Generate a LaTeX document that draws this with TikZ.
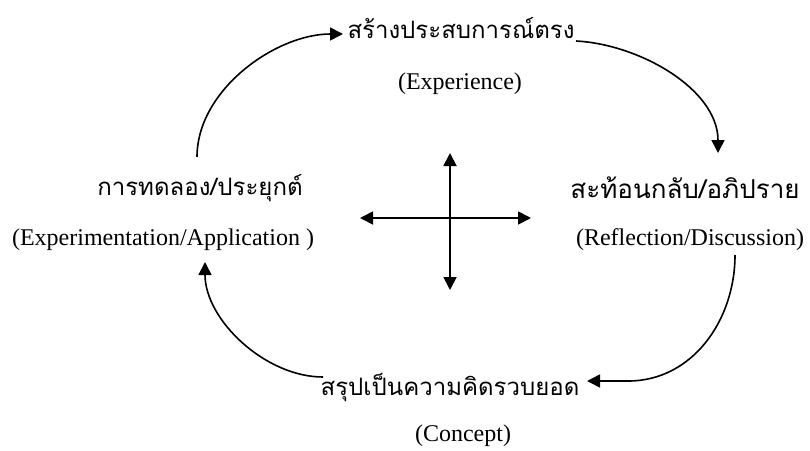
\documentclass[tikz,border=0pt]{standalone}
\usepackage{fontspec}
\setmainfont{Liberation Serif}
\newfontfamily\thaifont[Script=Thai]{Loma}
\usetikzlibrary{arrows.meta}
\begin{document}
\begin{tikzpicture}[x=1pt,y=-1pt,
  thai/.style={font=\thaifont\fontsize{24}{28}\selectfont, inner sep=0pt},
  latin/.style={font=\fontsize{24}{28}\selectfont, inner sep=0pt},
  arr/.style={line width=1.6pt, -{Triangle[length=13pt,width=13pt]}},
  darr/.style={line width=1.8pt, {Triangle[length=13pt,width=13pt]}-{Triangle[length=13pt,width=13pt]}}]
\useasboundingbox (0,0) rectangle (810,450);
% nodes
\node[thai] (e) at (461,28) {สร้างประสบการณ์ตรง};
\node[latin] (e2) at (460,84) {(Experience)};
\node[thai,font=\thaifont\fontsize{26}{30}\selectfont] (r) at (685,188) {สะท้อนกลับ/อภิปราย};
\node[latin] (r2) at (690,240) {(Reflection/Discussion)};
\node[thai] (c) at (450,388) {สรุปเป็นความคิดรวบยอด};
\node[latin] (c2) at (463,436) {(Concept)};
\node[thai] (a) at (200,188) {การทดลอง/ประยุกต์};
\node[latin] (a2) at (163,240) {(Experimentation/Application )};
% connector end points
\coordinate (a-out) at (197,157);
\coordinate (e-in) at (343,34);
\coordinate (e-out) at (576,41);
\coordinate (r-in) at (718,153);
\coordinate (r-out) at (735,255);
\coordinate (c-bend) at (628,381);
\coordinate (c-in) at (587,381);
\coordinate (c-out) at (323,377);
\coordinate (a-in) at (205,262);
% cycle arrows
\draw[arr] (a-out) to[out=90,in=180,looseness=0.9] (e-in);
\draw[arr] (e-out) to[out=-3,in=90,looseness=0.9] (r-in);
\draw[arr] (r-out) to[out=-90,in=0,looseness=1] (c-bend) -- (c-in);
\draw[arr] (c-out) to[out=180,in=-90,looseness=0.9] (a-in);
% center cross
\coordinate (vt) at (450,153);
\coordinate (vb) at (450,290);
\coordinate (hl) at (360,218);
\coordinate (hr) at (531,218);
\draw[darr] (vt) -- (vb);
\draw[darr] (hl) -- (hr);
\end{tikzpicture}
\end{document}
